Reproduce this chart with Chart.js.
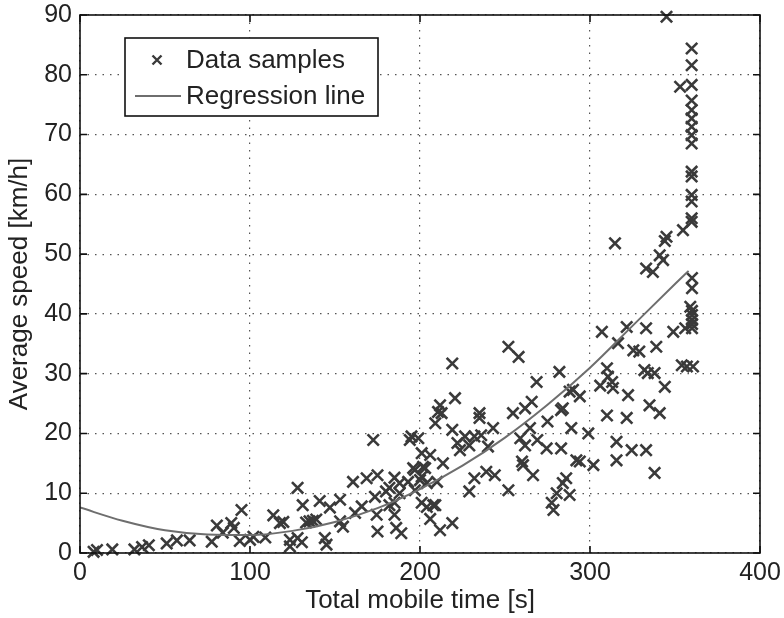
<!DOCTYPE html>
<html>
<head>
<meta charset="utf-8">
<script src="https://cdn.jsdelivr.net/npm/chart.js@4/dist/chart.umd.min.js"></script>
<style>
  html, body { margin: 0; padding: 0; background: #ffffff; }
  #wrap { width: 784px; height: 618px; }
</style>
</head>
<body>
<div id="wrap"><canvas id="c" width="784" height="618"></canvas></div>
<script>
// ---- Data ----
const sampleX = [
  8, 10, 19, 32, 36.5, 40.5, 51, 57, 64.5, 77.5, 80.5, 84, 89, 90.5, 95, 94, 100,
  102, 109, 113.7, 117.6, 119.6, 123.5, 123.5, 128, 128, 130.5, 131, 133, 135, 137, 139, 141, 144, 145, 147, 153, 153, 154.7, 160.6, 161.8,
  165.7, 168.6, 172.5, 173.5, 174.5, 175, 175, 180, 182, 182, 185, 185, 185, 186, 188, 188, 189, 193, 194, 195, 196, 197, 197, 199, 200, 201, 201, 201, 201.8, 203, 204, 204, 206, 206, 207.8, 209, 209, 210, 210.6, 211.8, 211.8, 212.7, 213.5, 219, 219, 219, 220.6,
  222, 223.5, 226.5, 229, 229, 232, 232, 235, 235, 236, 239, 240, 243, 244, 252, 252, 254.7, 258, 259, 260, 260.6, 261.8, 261.8, 264.7, 265.7, 266.5, 268.6, 269, 274.5, 275, 277.5, 278.5, 280.4, 282, 283, 283, 284, 284, 286, 288, 288, 289, 290, 292, 294, 294, 299,
  302, 306, 307, 310, 310, 310.6, 313, 313.5, 314.7, 315.6, 315.6, 316.5, 321.6, 321.6, 322.4, 324.5, 325.5, 329, 332, 333, 333, 333, 334, 335, 337, 338, 338, 339, 341, 341, 343, 344, 344, 345, 345, 349, 353, 354, 354.7, 356, 357,
  359.8, 360, 360, 359, 360, 360, 360, 360, 360, 360.6, 359.8, 359.8, 359.8, 359.8, 359.8, 359.8, 359.8, 359.8, 359.8, 359.8, 359.8, 359.8, 359.8, 359.8
];
const sampleY = [
  0.2, 0.5, 0.6, 0.6, 1.0, 1.3, 1.6, 2.1, 2.1, 1.9, 4.6, 3.4, 5.0, 4.2, 7.2, 2.0, 2.2,
  2.7, 2.6, 6.3, 5.0, 5.2, 2.2, 1.1, 10.9, 2.5, 1.8, 8.0, 5.1, 5.3, 5.4, 5.6, 8.7, 2.5, 1.4, 7.6, 8.9, 5.3, 4.4, 11.9, 6.7,
  7.8, 12.5, 18.9, 9.4, 6.4, 13.0, 3.6, 10.3, 8.0, 10.9, 12.6, 8.4, 6.4, 4.2, 11.7, 10.0, 3.3, 11.9, 18.9, 19.5, 14.2, 13.9, 10.5, 19.2, 12.2, 16.7, 12.8, 8.4, 14.4, 14.2, 11.7, 7.7, 16.4, 5.7, 8.0, 21.7, 8.0, 11.9, 23.6, 24.7, 3.8, 23.4, 15.0, 31.7, 20.6, 5.0, 25.9,
  18.4, 17.2, 19.5, 18.0, 10.3, 19.5, 12.5, 23.4, 22.6, 19.7, 13.6, 17.8, 20.9, 13.0, 34.5, 10.5, 23.4, 32.8, 19.2, 15.3, 14.7, 24.2, 18.0, 20.9, 25.3, 13.0, 28.6, 18.9, 17.5, 22.0, 8.4, 7.2, 10.0, 30.3, 23.9, 17.5, 11.7, 24.2, 12.5, 27.0, 9.7, 20.9, 27.3, 15.5, 26.2, 15.3, 20.0,
  14.7, 28.0, 37.0, 30.9, 23.0, 29.5, 28.6, 27.6, 51.8, 18.6, 15.5, 35.1, 37.8, 22.6, 26.4, 17.2, 33.9, 33.7, 30.6, 47.6, 37.6, 17.2, 30.1, 24.7, 47.0, 30.1, 13.4, 34.5, 49.8, 23.4, 49.0, 27.8, 52.2, 52.9, 89.7, 37.0, 78.0, 31.4, 54.0, 37.6, 31.2,
  55.4, 46.0, 44.3, 41.2, 40.5, 39.8, 39.0, 38.3, 37.6, 31.2, 56.0, 58.8, 59.9, 63.0, 63.8, 68.5, 69.9, 71.3, 72.7, 74.1, 75.7, 78.3, 81.6, 84.4
];
const regX = [0, 25, 50, 75, 100, 125, 150, 175, 200, 225, 250, 275, 300, 325, 350, 358];
const regY = [7.6, 5.4, 3.8, 3.1, 3.0, 3.7, 5.2, 7.5, 10.7, 14.6, 19.3, 24.8, 31.0, 38.0, 45.0, 47.2];
const xTicks = [0, 100, 200, 300, 400];
const yTicks = [0, 10, 20, 30, 40, 50, 60, 70, 80, 90];
const seriesNames = ['Data samples', 'Regression line'];
const xTitle = 'Total mobile time [s]';
const yTitle = 'Average speed [km/h]';

// ---- Styles ----
const FONT = "'Liberation Sans', Arial, Helvetica, sans-serif";
const TEXT = '#222222';
const MARK = '#3a3a3a';
const LINE = '#6e6e6e';

const samples = sampleX.map((x, i) => ({ x: x, y: sampleY[i] }));
const reg = regX.map((x, i) => ({ x: x, y: regY[i] }));

// Box + inward ticks, and legend inside the axes
const boxPlugin = {
  id: 'box',
  afterDatasetsDraw(chart) {
    const { ctx, chartArea: a, scales } = chart;
    ctx.save();
    ctx.strokeStyle = '#111';
    ctx.lineWidth = 1.6;
    ctx.strokeRect(a.left, a.top, a.right - a.left, a.bottom - a.top);
    const tl = 7;
    ctx.beginPath();
    xTicks.forEach(v => {
      const px = scales.x.getPixelForValue(v);
      ctx.moveTo(px, a.bottom); ctx.lineTo(px, a.bottom - tl);
      ctx.moveTo(px, a.top); ctx.lineTo(px, a.top + tl);
    });
    yTicks.forEach(v => {
      const py = scales.y.getPixelForValue(v);
      ctx.moveTo(a.left, py); ctx.lineTo(a.left + tl, py);
      ctx.moveTo(a.right, py); ctx.lineTo(a.right - tl, py);
    });
    ctx.stroke();

    // legend
    const lx = a.left + 45, ly = a.top + 23, lw = 253, lh = 78;
    ctx.fillStyle = '#fff';
    ctx.fillRect(lx, ly, lw, lh);
    ctx.strokeStyle = '#111';
    ctx.lineWidth = 1.6;
    ctx.strokeRect(lx, ly, lw, lh);
    const r1 = ly + 22, r2 = ly + 58;
    // marker
    const mx = lx + 32, d = 4.5;
    ctx.strokeStyle = MARK; ctx.lineWidth = 2.4;
    ctx.beginPath();
    ctx.moveTo(mx - d, r1 - d); ctx.lineTo(mx + d, r1 + d);
    ctx.moveTo(mx + d, r1 - d); ctx.lineTo(mx - d, r1 + d);
    ctx.stroke();
    // line
    ctx.strokeStyle = LINE; ctx.lineWidth = 2;
    ctx.beginPath(); ctx.moveTo(lx + 10, r2); ctx.lineTo(lx + 56, r2); ctx.stroke();
    ctx.fillStyle = TEXT;
    ctx.font = '26px ' + FONT;
    ctx.textBaseline = 'middle';
    ctx.textAlign = 'left';
    ctx.fillText(seriesNames[0], lx + 61, r1 + 1);
    ctx.fillText(seriesNames[1], lx + 61, r2 + 1);
    ctx.restore();
  }
};

new Chart(document.getElementById('c'), {
  type: 'scatter',
  data: {
    datasets: [
      {
        label: seriesNames[0],
        data: samples,
        pointStyle: 'crossRot',
        pointRadius: 8,
        pointBorderWidth: 2.6,
        borderColor: MARK,
        backgroundColor: MARK,
        clip: false,
        order: 1
      },
      {
        label: seriesNames[1],
        data: reg,
        type: 'line',
        showLine: true,
        pointRadius: 0,
        borderColor: LINE,
        borderWidth: 2,
        cubicInterpolationMode: 'monotone',
        fill: false,
        order: 0
      }
    ]
  },
  options: {
    responsive: false,
    animation: false,
    devicePixelRatio: 1,
    layout: { padding: { top: 15, right: 24, left: 0, bottom: 0 } },
    plugins: { legend: { display: false }, tooltip: { enabled: false } },
    scales: {
      x: {
        type: 'linear', min: 0, max: 400,
        afterBuildTicks: s => { s.ticks = xTicks.map(v => ({ value: v })); },
        afterFit: s => { s.height = 65; s.paddingLeft = 0; s.paddingRight = 0; },
        grid: { color: '#555', lineWidth: 1.2, drawTicks: false },
        border: { display: false, dash: [1.5, 6] },
        ticks: { color: TEXT, font: { family: FONT, size: 25 }, padding: 5, maxRotation: 0 },
        title: { display: true, text: xTitle, color: TEXT, font: { family: FONT, size: 26 }, padding: { top: 0, bottom: 2 } }
      },
      y: {
        type: 'linear', min: 0, max: 90,
        afterBuildTicks: s => { s.ticks = yTicks.map(v => ({ value: v })); },
        afterFit: s => { s.width = 80; s.paddingTop = 0; s.paddingBottom = 0; },
        grid: { color: '#555', lineWidth: 1.2, drawTicks: false },
        border: { display: false, dash: [1.5, 6] },
        ticks: { color: TEXT, font: { family: FONT, size: 25 }, padding: 8 },
        title: { display: true, text: yTitle, color: TEXT, font: { family: FONT, size: 26 }, padding: { top: 4, bottom: 0 } }
      }
    }
  },
  plugins: [boxPlugin]
});
</script>
</body>
</html>
